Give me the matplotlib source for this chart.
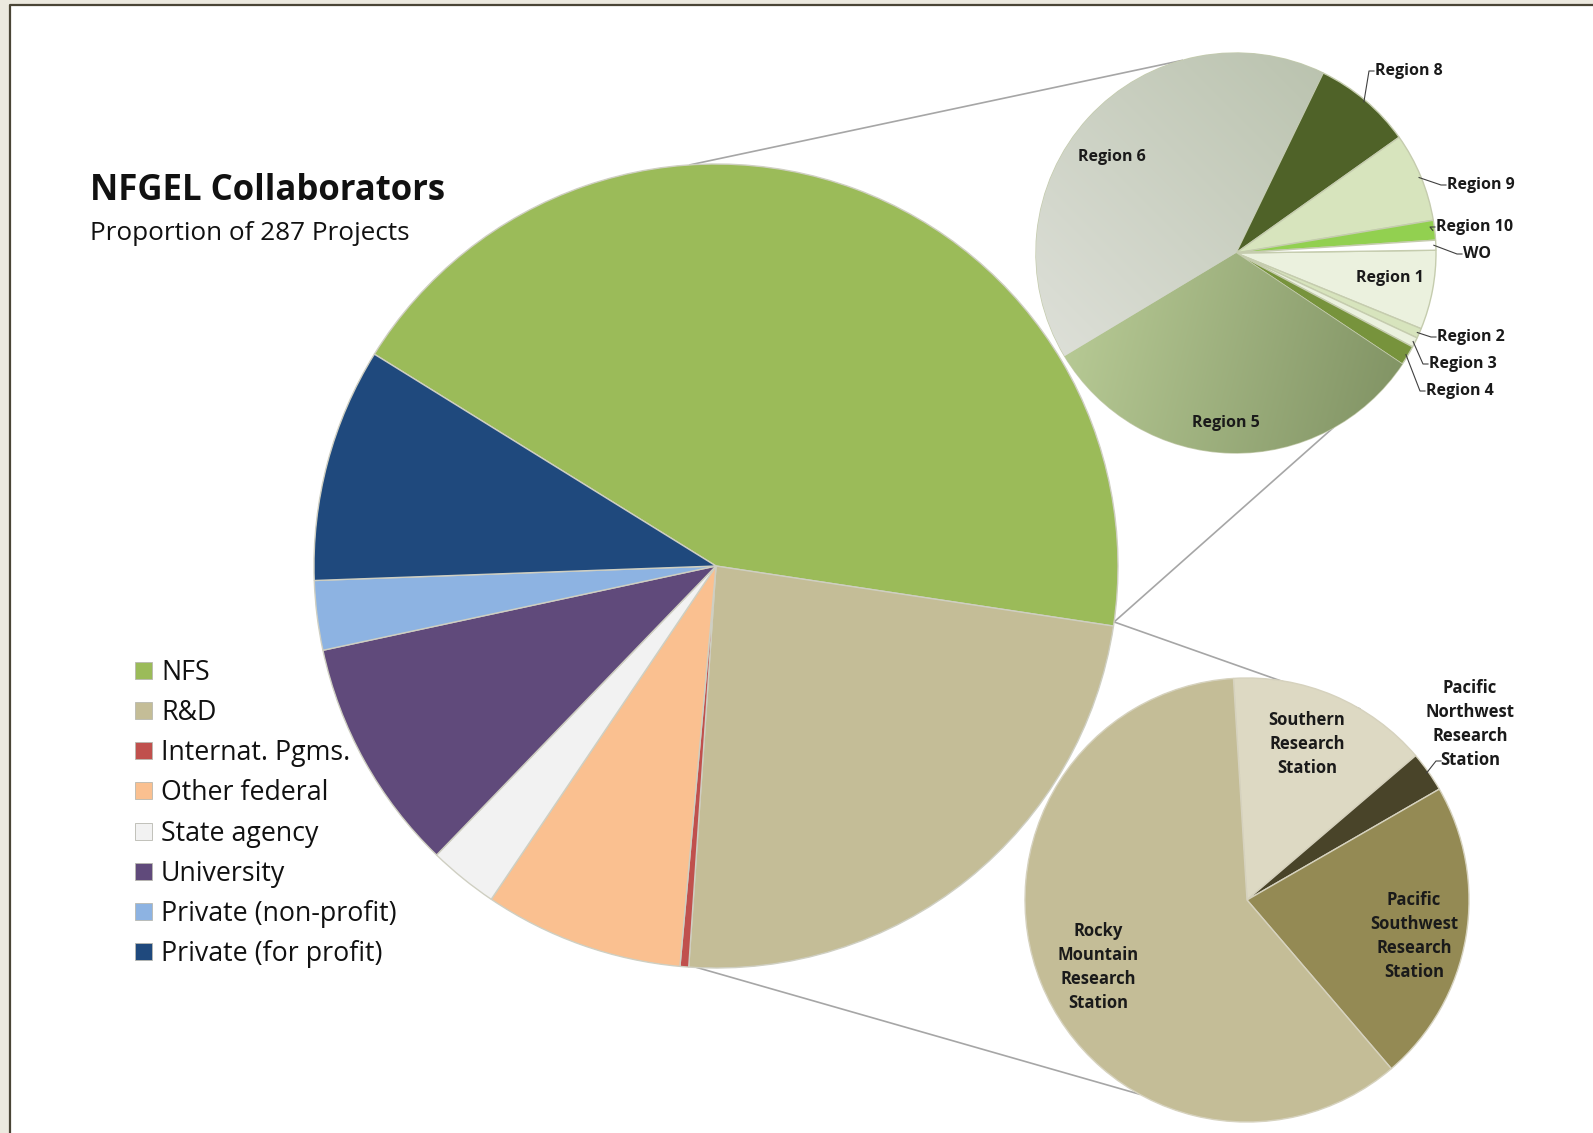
import numpy as np
import matplotlib.pyplot as plt
from matplotlib.patches import Rectangle

plt.rcParams.update({
    "font.family": ["Open Sans", "DejaVu Sans"],
    "figure.dpi": 100,
})

# ==============================
# data (number of projects)
# ==============================
groups = ["NFS", "R&D", "Internat. Pgms.", "Other federal", "State agency",
          "University", "Private (non-profit)", "Private (for profit)"]
group_counts = [125, 68, 1, 23, 8, 27, 8, 27]
group_colors = ["#9BBB59", "#C4BD97", "#C0504D", "#FAC090", "#F2F2F2",
                "#604A7B", "#8DB3E2", "#1F497D"]

nfs_regions = ["Region 1", "Region 2", "Region 3", "Region 4", "Region 5",
               "Region 6", "Region 8", "Region 9", "Region 10", "WO"]
nfs_counts = [8, 1, 1, 2, 40, 51, 10, 9, 2, 1]
nfs_colors = ["#EBF1DE", "#D7E4BD", "#EBF1DE", "#77933C", "#A6BA80",
              "#CDD3C6", "#4F6228", "#D7E4BD", "#92D050", "#FFFFFF"]

rd_stations = ["Southern\nResearch\nStation",
               "Pacific\nNorthwest\nResearch\nStation",
               "Pacific\nSouthwest\nResearch\nStation",
               "Rocky\nMountain\nResearch\nStation"]
rd_counts = [10, 2, 15, 41]
rd_colors = ["#DDD9C3", "#494429", "#948A54", "#C4BD97"]

# ==============================
# layout (figure pixels, y measured from top)
# ==============================
W, H = 1593, 1133
MAIN = dict(cx=716, cy=566, r=402, start=148.2)
NFS = dict(cx=1236, cy=253, r=200, start=0.8)
RD = dict(cx=1247, cy=900, r=222, start=93.5)


def Y(y):
    return H - y


def rim(p, ang, k=1.0):
    a = np.radians(ang)
    return p["cx"] + k * p["r"] * np.cos(a), Y(p["cy"]) + k * p["r"] * np.sin(a)


fig = plt.figure(figsize=(W / 100, H / 100))
fig.patch.set_facecolor("white")
ax = fig.add_axes([0, 0, 1, 1])
ax.set_axis_off()

# window frame
ax.add_patch(Rectangle((0, 0), 9, H, color="#ECE9DF", zorder=0))
ax.add_patch(Rectangle((0, Y(4)), W, 4, color="#ECE9DF", zorder=0))
ax.plot([9.5, 9.5, W], [0, Y(4.5), Y(4.5)], color="#4A4536", lw=1.6, zorder=1)

# connector lines
line_kw = dict(color="#A6A6A6", lw=1.2, zorder=1)
for a_main, p_sub, a_sub in [(93.7, NFS, 105.6), (-8.0, NFS, -61.0),
                             (-8.0, RD, 59.5), (-92.7, RD, -119.0)]:
    x0, y0 = rim(MAIN, a_main)
    x1, y1 = rim(p_sub, a_sub)
    ax.plot([x0, x1], [y0, y1], **line_kw)

# main pie
main_w, _ = ax.pie(group_counts, colors=group_colors, startangle=MAIN["start"],
                   counterclock=False, radius=MAIN["r"],
                   center=(MAIN["cx"], Y(MAIN["cy"])),
                   wedgeprops=dict(edgecolor="#CFCFC2", linewidth=1.0),
                   frame=True)

# NFS breakdown
nfs_w, _ = ax.pie(nfs_counts, colors=nfs_colors, startangle=NFS["start"],
                  counterclock=False, radius=NFS["r"],
                  center=(NFS["cx"], Y(NFS["cy"])),
                  wedgeprops=dict(edgecolor="#C5CCAE", linewidth=1.0),
                  frame=True)

# R&D breakdown
rd_w, _ = ax.pie(rd_counts, colors=rd_colors, startangle=RD["start"],
                 counterclock=False, radius=RD["r"],
                 center=(RD["cx"], Y(RD["cy"])),
                 wedgeprops=dict(edgecolor="#D6D2BE", linewidth=1.0),
                 frame=True)


def gradient(wedge, c0, c1, direction):
    x0, x1 = NFS["cx"] - NFS["r"], NFS["cx"] + NFS["r"]
    y0, y1 = Y(NFS["cy"]) - NFS["r"], Y(NFS["cy"]) + NFS["r"]
    gx, gy = np.meshgrid(np.linspace(0, 1, 200), np.linspace(0, 1, 200))
    t = gx * direction[0] + gy * direction[1]
    t = (t - t.min()) / (t.max() - t.min())
    a = np.array(plt.matplotlib.colors.to_rgb(c0))
    b = np.array(plt.matplotlib.colors.to_rgb(c1))
    img = a + (b - a) * t[..., None]
    im = ax.imshow(img, extent=[x0, x1, y0, y1], origin="lower",
                   interpolation="bilinear", zorder=wedge.get_zorder() + 0.01)
    im.set_clip_path(wedge)


gradient(nfs_w[nfs_regions.index("Region 5")], "#C6D9A2", "#7A8C5E", (1.0, -0.25))
gradient(nfs_w[nfs_regions.index("Region 6")], "#E4E5E0", "#B3BDA6", (0.7, 0.7))

# labels in the NFS pie
inside = {"Region 6": (1112, 157), "Region 5": (1226, 423), "Region 1": (1390, 278)}
outside = {"Region 8": (1375, 71), "Region 9": (1447, 185), "Region 10": (1436, 227),
           "WO": (1463, 254), "Region 2": (1437, 337), "Region 3": (1429, 364),
           "Region 4": (1426, 391)}
lab_kw = dict(fontsize=11.5, fontweight="bold", color="#1a1a1a", zorder=5)
for name, w in zip(nfs_regions, nfs_w):
    if name in inside:
        x, y = inside[name]
        ax.text(x, Y(y), name, ha="center", va="center", **lab_kw)
    else:
        lx, ly = outside[name]
        ex, ey = rim(NFS, (w.theta1 + w.theta2) / 2, 0.99)
        ax.plot([ex, lx - 6, lx - 1], [ey, Y(ly), Y(ly)],
                color="#404040", lw=0.8, zorder=4)
        ax.text(lx, Y(ly), name, ha="left", va="center", **lab_kw)

# labels in the R&D pie
rd_pos = [(1307, 744), (1470, 724), (1414, 936), (1098, 967)]
for name, (x, y) in zip(rd_stations, rd_pos):
    ax.text(x, Y(y), name, ha="center", va="center", fontsize=12,
            fontweight="bold", color="#1a1a1a", linespacing=1.45, zorder=5)
pnw = rd_w[1]
ex, ey = rim(RD, (pnw.theta1 + pnw.theta2) / 2, 0.99)
ax.plot([ex, 1436, 1441], [ey, Y(761), Y(761)], color="#404040", lw=0.8, zorder=4)

# title
ax.text(90, Y(200), "NFGEL Collaborators", fontsize=25, fontweight="bold",
        ha="left", va="baseline", color="#111111")
ax.text(90, Y(240), "Proportion of 287 Projects", fontsize=18.8,
        ha="left", va="baseline", color="#111111")

# legend
for i, (name, col) in enumerate(zip(groups, group_colors)):
    yc = 670 + 40.25 * i
    ax.add_patch(Rectangle((135, Y(yc) - 8.5), 17, 17, facecolor=col,
                           edgecolor="#B8B8B0", lw=0.6, zorder=3))
    ax.text(161, Y(yc + 9.5), name, fontsize=19.3, ha="left", va="baseline",
            color="#111111")

ax.set_xlim(0, W)
ax.set_ylim(0, H)
ax.set_aspect("equal")
ax.set_axis_off()

fig.savefig("out.png", dpi=100, facecolor="white")
